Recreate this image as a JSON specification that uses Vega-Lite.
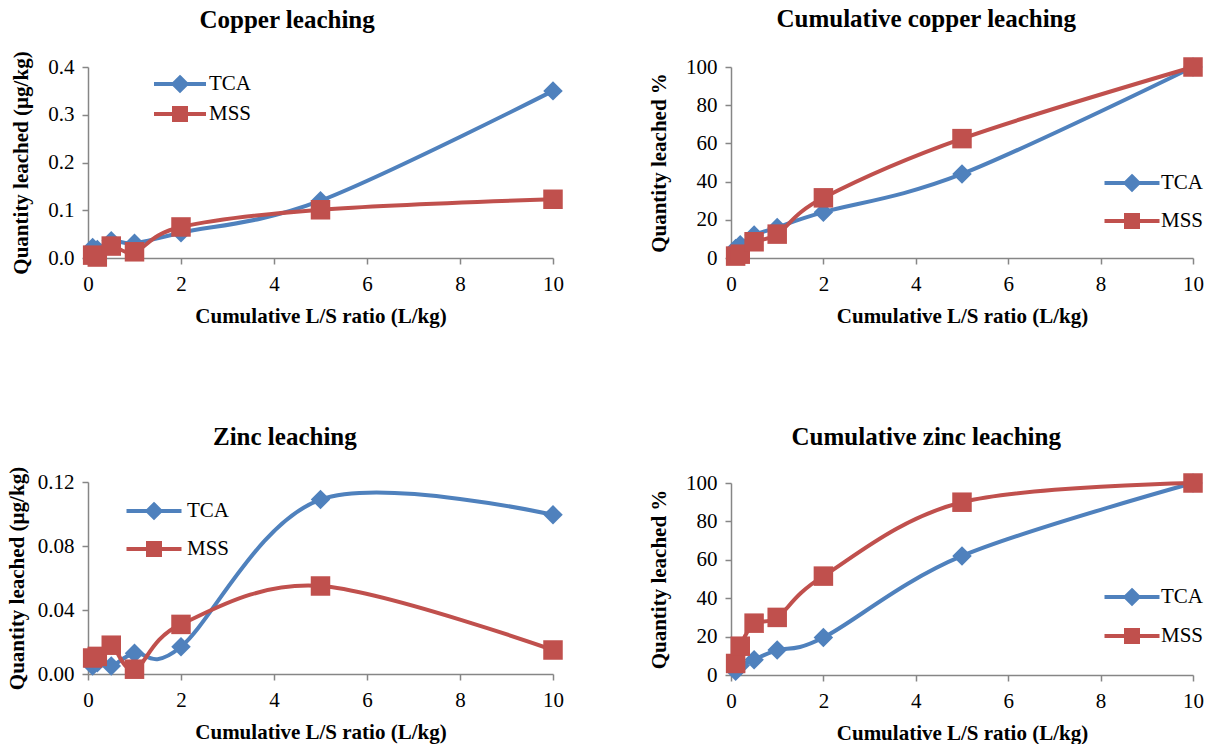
{
  "$schema": "https://vega.github.io/schema/vega-lite/v6.json",
  "background": "white",
  "padding": {"left": 6, "top": 7, "right": 10, "bottom": 5},
  "data": {"values": [
    {"panel": "cu", "series": "TCA", "x": 0.1, "y": 0.022},
    {"panel": "cu", "series": "TCA", "x": 0.2, "y": 0.018},
    {"panel": "cu", "series": "TCA", "x": 0.5, "y": 0.036},
    {"panel": "cu", "series": "TCA", "x": 1, "y": 0.031},
    {"panel": "cu", "series": "TCA", "x": 2, "y": 0.053},
    {"panel": "cu", "series": "TCA", "x": 5, "y": 0.12},
    {"panel": "cu", "series": "TCA", "x": 10, "y": 0.35},
    {"panel": "cu", "series": "MSS", "x": 0.1, "y": 0.006},
    {"panel": "cu", "series": "MSS", "x": 0.2, "y": 0.002},
    {"panel": "cu", "series": "MSS", "x": 0.5, "y": 0.025},
    {"panel": "cu", "series": "MSS", "x": 1, "y": 0.013},
    {"panel": "cu", "series": "MSS", "x": 2, "y": 0.065},
    {"panel": "cu", "series": "MSS", "x": 5, "y": 0.101},
    {"panel": "cu", "series": "MSS", "x": 10, "y": 0.123},
    {"panel": "cucum", "series": "TCA", "x": 0.1, "y": 5},
    {"panel": "cucum", "series": "TCA", "x": 0.2, "y": 7},
    {"panel": "cucum", "series": "TCA", "x": 0.5, "y": 12},
    {"panel": "cucum", "series": "TCA", "x": 1, "y": 16},
    {"panel": "cucum", "series": "TCA", "x": 2, "y": 24},
    {"panel": "cucum", "series": "TCA", "x": 5, "y": 44},
    {"panel": "cucum", "series": "TCA", "x": 10, "y": 100},
    {"panel": "cucum", "series": "MSS", "x": 0.1, "y": 1},
    {"panel": "cucum", "series": "MSS", "x": 0.2, "y": 2},
    {"panel": "cucum", "series": "MSS", "x": 0.5, "y": 8.5},
    {"panel": "cucum", "series": "MSS", "x": 1, "y": 12.5},
    {"panel": "cucum", "series": "MSS", "x": 2, "y": 31.5},
    {"panel": "cucum", "series": "MSS", "x": 5, "y": 62.5},
    {"panel": "cucum", "series": "MSS", "x": 10, "y": 100},
    {"panel": "zn", "series": "TCA", "x": 0.1, "y": 0.005},
    {"panel": "zn", "series": "TCA", "x": 0.2, "y": 0.007},
    {"panel": "zn", "series": "TCA", "x": 0.5, "y": 0.005},
    {"panel": "zn", "series": "TCA", "x": 1, "y": 0.013},
    {"panel": "zn", "series": "TCA", "x": 2, "y": 0.017},
    {"panel": "zn", "series": "TCA", "x": 5, "y": 0.109},
    {"panel": "zn", "series": "TCA", "x": 10, "y": 0.0995},
    {"panel": "zn", "series": "MSS", "x": 0.1, "y": 0.010},
    {"panel": "zn", "series": "MSS", "x": 0.2, "y": 0.011},
    {"panel": "zn", "series": "MSS", "x": 0.5, "y": 0.018},
    {"panel": "zn", "series": "MSS", "x": 1, "y": 0.003},
    {"panel": "zn", "series": "MSS", "x": 2, "y": 0.031},
    {"panel": "zn", "series": "MSS", "x": 5, "y": 0.055},
    {"panel": "zn", "series": "MSS", "x": 10, "y": 0.015},
    {"panel": "zncum", "series": "TCA", "x": 0.1, "y": 2},
    {"panel": "zncum", "series": "TCA", "x": 0.2, "y": 5},
    {"panel": "zncum", "series": "TCA", "x": 0.5, "y": 8},
    {"panel": "zncum", "series": "TCA", "x": 1, "y": 13},
    {"panel": "zncum", "series": "TCA", "x": 2, "y": 19.5},
    {"panel": "zncum", "series": "TCA", "x": 5, "y": 62},
    {"panel": "zncum", "series": "TCA", "x": 10, "y": 100},
    {"panel": "zncum", "series": "MSS", "x": 0.1, "y": 6},
    {"panel": "zncum", "series": "MSS", "x": 0.2, "y": 15},
    {"panel": "zncum", "series": "MSS", "x": 0.5, "y": 27},
    {"panel": "zncum", "series": "MSS", "x": 1, "y": 30},
    {"panel": "zncum", "series": "MSS", "x": 2, "y": 51.5},
    {"panel": "zncum", "series": "MSS", "x": 5, "y": 90},
    {"panel": "zncum", "series": "MSS", "x": 10, "y": 100}
  ]},
  "spacing": 84,
  "hconcat": [
    {
      "spacing": 99,
      "resolve": {"scale": {"color": "independent", "x": "independent", "y": "independent"}, "legend": {"color": "independent"}},
      "vconcat": [
        {
          "title": {"text": "Copper leaching", "offset": 18},
          "width": 465, "height": 191,
          "transform": [{"filter": "datum.panel === 'cu'"}],
          "encoding": {
            "x": {"field": "x", "type": "quantitative", "scale": {"domain": [0, 10], "nice": false}, "axis": {"values": [0, 2, 4, 6, 8, 10], "title": "Cumulative L/S ratio (L/kg)"}},
            "y": {"field": "y", "type": "quantitative", "scale": {"domain": [0, 0.4], "nice": false}, "axis": {"values": [0, 0.1, 0.2, 0.3, 0.4], "format": ".1f", "title": "Quantity leached (µg/kg)", "titlePadding": 16}},
            "color": {"field": "series", "type": "nominal", "scale": {"domain": ["TCA", "MSS"], "range": ["#4F81BD", "#C0504D"]},
              "legend": {"orient": "none", "legendX": 80, "legendY": 5, "rowPadding": 1, "labelOffset": 17,
                "encode": {"symbols": {"update": {
                  "shape": {"signal": "datum.value === 'TCA' ? 'M-2.6,0H2.6M0,-0.65L0.65,0L0,0.65L-0.65,0Z' : 'M-2.6,0H2.6M-0.6,-0.6H0.6V0.6H-0.6Z'"},
                  "fill": {"signal": "datum.value === 'TCA' ? '#4F81BD' : '#C0504D'"},
                  "stroke": {"signal": "datum.value === 'TCA' ? '#4F81BD' : '#C0504D'"},
                  "strokeWidth": {"value": 4}, "opacity": {"value": 1}, "fillOpacity": {"value": 1}, "strokeOpacity": {"value": 1}}}}}}
          },
          "layer": [
            {"mark": {"type": "line", "interpolate": "cardinal", "strokeWidth": 4}},
            {"transform": [{"filter": "datum.series === 'TCA'"}], "mark": {"type": "point", "filled": true, "opacity": 1, "size": 380, "shape": "diamond"}},
            {"transform": [{"filter": "datum.series === 'MSS'"}], "mark": {"type": "point", "filled": true, "opacity": 1, "size": 380, "shape": "square"}}
          ]
        },
        {
          "title": {"text": "Zinc leaching", "offset": 16},
          "width": 465, "height": 192,
          "transform": [{"filter": "datum.panel === 'zn'"}],
          "encoding": {
            "x": {"field": "x", "type": "quantitative", "scale": {"domain": [0, 10], "nice": false}, "axis": {"values": [0, 2, 4, 6, 8, 10], "title": "Cumulative L/S ratio (L/kg)"}},
            "y": {"field": "y", "type": "quantitative", "scale": {"domain": [0, 0.12], "nice": false}, "axis": {"values": [0, 0.04, 0.08, 0.12], "format": ".2f", "title": "Quantity leached (µg/kg)", "titlePadding": 10}},
            "color": {"field": "series", "type": "nominal", "scale": {"domain": ["TCA", "MSS"], "range": ["#4F81BD", "#C0504D"]},
              "legend": {"orient": "none", "legendX": 54, "legendY": 17, "rowPadding": 9, "labelOffset": 21,
                "encode": {"symbols": {"update": {
                  "shape": {"signal": "datum.value === 'TCA' ? 'M-2.75,0H2.75M0,-0.65L0.65,0L0,0.65L-0.65,0Z' : 'M-2.75,0H2.75M-0.6,-0.6H0.6V0.6H-0.6Z'"},
                  "fill": {"signal": "datum.value === 'TCA' ? '#4F81BD' : '#C0504D'"},
                  "stroke": {"signal": "datum.value === 'TCA' ? '#4F81BD' : '#C0504D'"},
                  "strokeWidth": {"value": 4}, "opacity": {"value": 1}, "fillOpacity": {"value": 1}, "strokeOpacity": {"value": 1}}}}}}
          },
          "layer": [
            {"mark": {"type": "line", "interpolate": "cardinal", "strokeWidth": 4}},
            {"transform": [{"filter": "datum.series === 'TCA'"}], "mark": {"type": "point", "filled": true, "opacity": 1, "size": 380, "shape": "diamond"}},
            {"transform": [{"filter": "datum.series === 'MSS'"}], "mark": {"type": "point", "filled": true, "opacity": 1, "size": 380, "shape": "square"}}
          ]
        }
      ]
    },
    {
      "spacing": 99,
      "resolve": {"scale": {"color": "independent", "x": "independent", "y": "independent"}, "legend": {"color": "independent"}},
      "vconcat": [
        {
          "title": {"text": "Cumulative copper leaching", "offset": 24},
          "width": 462, "height": 191,
          "transform": [{"filter": "datum.panel === 'cucum'"}],
          "encoding": {
            "x": {"field": "x", "type": "quantitative", "scale": {"domain": [0, 10], "nice": false}, "axis": {"values": [0, 2, 4, 6, 8, 10], "title": "Cumulative L/S ratio (L/kg)"}},
            "y": {"field": "y", "type": "quantitative", "scale": {"domain": [0, 100], "nice": false}, "axis": {"values": [0, 20, 40, 60, 80, 100], "title": "Quantity leached %", "titlePadding": 16}},
            "color": {"field": "series", "type": "nominal", "scale": {"domain": ["TCA", "MSS"], "range": ["#4F81BD", "#C0504D"]},
              "legend": {"orient": "none", "legendX": 389, "legendY": 104, "rowPadding": 9, "labelOffset": 17,
                "encode": {"symbols": {"update": {
                  "shape": {"signal": "datum.value === 'TCA' ? 'M-2.75,0H2.75M0,-0.65L0.65,0L0,0.65L-0.65,0Z' : 'M-2.75,0H2.75M-0.6,-0.6H0.6V0.6H-0.6Z'"},
                  "fill": {"signal": "datum.value === 'TCA' ? '#4F81BD' : '#C0504D'"},
                  "stroke": {"signal": "datum.value === 'TCA' ? '#4F81BD' : '#C0504D'"},
                  "strokeWidth": {"value": 4}, "opacity": {"value": 1}, "fillOpacity": {"value": 1}, "strokeOpacity": {"value": 1}}}}}}
          },
          "layer": [
            {"mark": {"type": "line", "interpolate": "cardinal", "strokeWidth": 4}},
            {"transform": [{"filter": "datum.series === 'TCA'"}], "mark": {"type": "point", "filled": true, "opacity": 1, "size": 380, "shape": "diamond"}},
            {"transform": [{"filter": "datum.series === 'MSS'"}], "mark": {"type": "point", "filled": true, "opacity": 1, "size": 380, "shape": "square"}}
          ]
        },
        {
          "title": {"text": "Cumulative zinc leaching", "offset": 22},
          "width": 462, "height": 192,
          "transform": [{"filter": "datum.panel === 'zncum'"}],
          "encoding": {
            "x": {"field": "x", "type": "quantitative", "scale": {"domain": [0, 10], "nice": false}, "axis": {"values": [0, 2, 4, 6, 8, 10], "title": "Cumulative L/S ratio (L/kg)"}},
            "y": {"field": "y", "type": "quantitative", "scale": {"domain": [0, 100], "nice": false}, "axis": {"values": [0, 20, 40, 60, 80, 100], "title": "Quantity leached %", "titlePadding": 16}},
            "color": {"field": "series", "type": "nominal", "scale": {"domain": ["TCA", "MSS"], "range": ["#4F81BD", "#C0504D"]},
              "legend": {"orient": "none", "legendX": 389, "legendY": 102, "rowPadding": 10, "labelOffset": 17,
                "encode": {"symbols": {"update": {
                  "shape": {"signal": "datum.value === 'TCA' ? 'M-2.75,0H2.75M0,-0.65L0.65,0L0,0.65L-0.65,0Z' : 'M-2.75,0H2.75M-0.6,-0.6H0.6V0.6H-0.6Z'"},
                  "fill": {"signal": "datum.value === 'TCA' ? '#4F81BD' : '#C0504D'"},
                  "stroke": {"signal": "datum.value === 'TCA' ? '#4F81BD' : '#C0504D'"},
                  "strokeWidth": {"value": 4}, "opacity": {"value": 1}, "fillOpacity": {"value": 1}, "strokeOpacity": {"value": 1}}}}}}
          },
          "layer": [
            {"mark": {"type": "line", "interpolate": "cardinal", "strokeWidth": 4}},
            {"transform": [{"filter": "datum.series === 'TCA'"}], "mark": {"type": "point", "filled": true, "opacity": 1, "size": 380, "shape": "diamond"}},
            {"transform": [{"filter": "datum.series === 'MSS'"}], "mark": {"type": "point", "filled": true, "opacity": 1, "size": 380, "shape": "square"}}
          ]
        }
      ]
    }
  ],
  "resolve": {"scale": {"color": "independent", "x": "independent", "y": "independent"}, "legend": {"color": "independent"}},
  "config": {
    "font": "Liberation Serif",
    "view": {"stroke": null},
    "axis": {"grid": false, "domainColor": "#868686", "tickColor": "#868686", "domainWidth": 1.5, "tickWidth": 1.5, "tickSize": 6, "labelColor": "#000000", "labelFont": "Liberation Serif", "labelFontSize": 21, "titleFont": "Liberation Serif", "titleFontSize": 21, "titleFontWeight": "bold", "titleColor": "#000000"},
    "axisX": {"titlePadding": 11, "labelPadding": 9, "labelFlush": false},
    "axisY": {"titlePadding": 8, "labelPadding": 8, "labelFlush": false},
    "title": {"font": "Liberation Serif", "fontSize": 25, "fontWeight": "bold", "color": "#000000", "frame": "bounds", "anchor": "middle"},
    "legend": {"title": null, "labelFont": "Liberation Serif", "labelFontSize": 21, "labelColor": "#000000", "symbolSize": 400, "symbolStrokeWidth": 4}
  }
}
